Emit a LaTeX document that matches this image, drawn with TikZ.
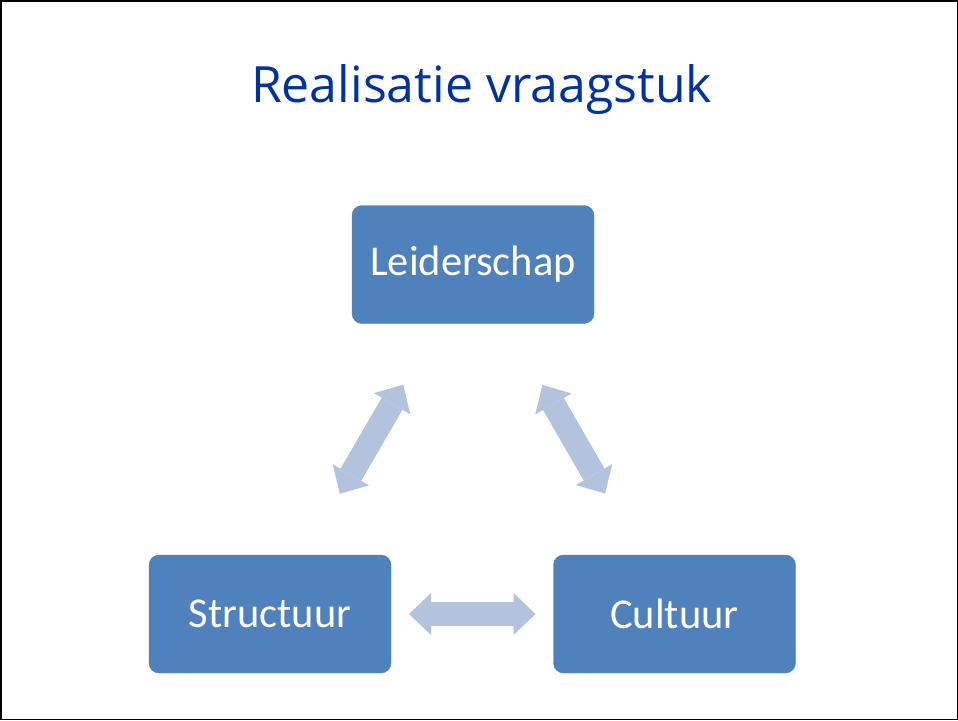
\documentclass[tikz,border=0pt]{standalone}
\usepackage{fontspec}
\setmainfont{Carlito}
\newfontfamily\titlefont{Open Sans}
\usetikzlibrary{arrows.meta,positioning}
\definecolor{boxblue}{HTML}{4F81BD}
\definecolor{arrowblue}{HTML}{B3C3DE}
\definecolor{titleblue}{HTML}{0033A0}

\begin{document}
\begin{tikzpicture}[
      x=1pt,y=-1pt,
      mybox/.style={
         rectangle,
         rounded corners=10pt,
         draw=boxblue,
         fill=boxblue,
         text=white,
         inner sep=0pt,
         minimum width=242pt,
         minimum height=118pt,
         font=\fontsize{42.5}{50}\selectfont},
      myarrow/.style={
         {Triangle[width=42pt,length=22pt,line width=0pt]}-{Triangle[width=42pt,length=22pt,line width=0pt]},
         line width=24pt,
         color=arrowblue,
         shorten <=139pt,
         shorten >=139pt}
      ]
      \useasboundingbox (0,0) rectangle (958,720);
      \draw[line width=1.5pt] (0.75,0.75) rectangle (957.25,719.25);

      \node[text=titleblue,font=\titlefont\fontsize{50}{60}\selectfont,anchor=base] (title) at (481.5,102.5) {Realisatie vraagstuk};

      \node[mybox] (lead) at (473,264.5) {Leiderschap};
      \node[mybox] (struct) at (270,614) {Structuur};
      \node[mybox] (cult) at (674.5,614) {Cultuur};

    \foreach \i/\j in {% start node/end node
      struct/lead,
      lead/cult,
      struct/cult}
       \draw [myarrow] (\i.center) -- (\j.center);
    \end{tikzpicture}
\end{document}
